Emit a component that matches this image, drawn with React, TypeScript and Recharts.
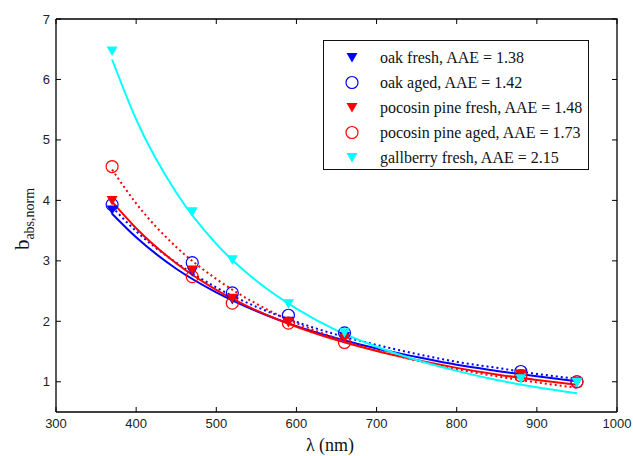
import React from 'react';
import { ComposedChart, Line, Scatter, XAxis, YAxis } from 'recharts';

// measured wavelengths (nm)
const WAVELENGTHS = [370, 470, 520, 590, 660, 880, 950];

// measured b_abs,norm at each wavelength
const oakFresh = [3.84, 2.82, 2.36, 2.0, 1.75, 1.13, 1.0];
const oakAged = [3.93, 2.97, 2.47, 2.1, 1.81, 1.17, 1.0];
const pineFresh = [4.0, 2.85, 2.38, 1.98, 1.72, 1.12, 1.0];
const pineAged = [4.56, 2.74, 2.3, 1.97, 1.65, 1.1, 1.0];
const gallberryFresh = [6.47, 3.81, 3.02, 2.29, 1.81, 1.05, 0.99];

// power-law fit curves
const FIT_X = [370, 400, 450, 500, 550, 600, 650, 700, 750, 800, 850, 900, 950];
const oakFreshFit = [3.78, 3.39, 2.87, 2.48, 2.17, 1.92, 1.72, 1.55, 1.41, 1.28, 1.18, 1.09, 1.01];
const oakAgedFit = [3.89, 3.49, 2.97, 2.56, 2.24, 1.99, 1.78, 1.61, 1.46, 1.33, 1.23, 1.13, 1.05];
const pineFreshFit = [3.98, 3.54, 2.96, 2.52, 2.18, 1.91, 1.69, 1.51, 1.36, 1.23, 1.12, 1.03, 0.95];
const pineAgedFit = [4.51, 3.95, 3.23, 2.7, 2.29, 1.97, 1.72, 1.52, 1.35, 1.21, 1.09, 0.99, 0.9];
const gallberryFit = [6.33, 5.34, 4.13, 3.28, 2.67, 2.21, 1.85, 1.58, 1.36, 1.18, 1.03, 0.91, 0.81];

const X_TICKS = [300, 400, 500, 600, 700, 800, 900, 1000];
const Y_TICKS = [1, 2, 3, 4, 5, 6, 7];

const SERIES = [
    { name: 'oak fresh, AAE = 1.38', color: '#0000ff', marker: 'tri', dotted: false, points: oakFresh, fit: oakFreshFit },
    { name: 'oak aged, AAE = 1.42', color: '#0000ff', marker: 'circle', dotted: true, points: oakAged, fit: oakAgedFit },
    { name: 'pocosin pine fresh, AAE = 1.48', color: '#ff0000', marker: 'tri', dotted: false, points: pineFresh, fit: pineFreshFit },
    { name: 'pocosin pine aged, AAE = 1.73', color: '#ff0000', marker: 'circle', dotted: true, points: pineAged, fit: pineAgedFit },
    { name: 'gallberry fresh, AAE = 2.15', color: '#00ffff', marker: 'tri', dotted: false, points: gallberryFresh, fit: gallberryFit },
];

const toPoints = (xs: number[], ys: number[]) => xs.map((x, i) => ({ x, y: ys[i] }));

const tickFont = { fontFamily: 'Liberation Sans, Arial, sans-serif', fontSize: 13, fill: '#222' };
const serif = 'Liberation Serif, Times New Roman, serif';

const Marker = ({ kind, color, cx, cy }: any) => {
    if (kind === 'circle') {
        return <circle cx={cx} cy={cy} r={6} fill="none" stroke={color} strokeWidth={1.2} />;
    }
    return <path d={`M${cx - 5.5},${cy - 4.5} L${cx + 5.5},${cy - 4.5} L${cx},${cy + 5} Z`} fill={color} />;
};

const BottomTick = ({ x, y, payload }: any) => (
    <g>
        <line x1={x} y1={y} x2={x} y2={y - 5} stroke="#000" />
        <line x1={x} y1={19} x2={x} y2={24} stroke="#000" />
        <text x={x} y={y + 16} textAnchor="middle" {...tickFont}>{payload.value}</text>
    </g>
);

const LeftTick = ({ x, y, payload }: any) => (
    <g>
        <line x1={x} y1={y} x2={x + 5} y2={y} stroke="#000" />
        <line x1={617} y1={y} x2={612} y2={y} stroke="#000" />
        <text x={x - 6} y={y + 4.5} textAnchor="end" {...tickFont}>{payload.value}</text>
    </g>
);

const YLabel = () => (
    <text transform="translate(29,219) rotate(-90)" textAnchor="middle" fontFamily={serif} fill="#111">
        <tspan fontSize={21}>b</tspan>
        <tspan fontSize={14} dy={5}>abs,norm</tspan>
    </text>
);

const XLabel = () => (
    <text x={330} y={451} textAnchor="middle" fontFamily={serif} fontSize={18} fill="#111">
        λ (nm)
    </text>
);

const LegendBox = () => (
    <div
        style={{
            position: 'absolute', left: 323, top: 40, width: 264, height: 128,
            border: '1.5px solid #111', background: '#fff', fontFamily: serif, fontSize: 16, color: '#111',
        }}
    >
        {SERIES.map((s, i) => (
            <div key={s.name} style={{ position: 'absolute', left: 0, top: 4 + i * 25, height: 25, display: 'flex', alignItems: 'center' }}>
                <svg width={56} height={25} style={{ flex: 'none' }}>
                    <Marker kind={s.marker} color={s.color} cx={28} cy={12.5} />
                </svg>
                <span style={{ whiteSpace: 'nowrap' }}>{s.name}</span>
            </div>
        ))}
    </div>
);

const App: React.FC = () => {
    return (
        <div style={{ position: 'absolute', left: 0, top: 0, width: 633, height: 456, background: '#fff' }}>
            <ComposedChart width={633} height={456} margin={{ top: 19, right: 16, bottom: 0, left: 0 }}>
                <XAxis
                    xAxisId="b"
                    dataKey="x"
                    type="number"
                    domain={[300, 1000]}
                    ticks={X_TICKS}
                    height={44}
                    tickSize={0}
                    tickMargin={0}
                    tickLine={false}
                    tick={<BottomTick />}
                    axisLine={{ stroke: '#000', strokeWidth: 1.3 }}
                    allowDataOverflow
                    label={<XLabel />}
                />
                <YAxis
                    yAxisId="l"
                    type="number"
                    domain={[0.5, 7]}
                    ticks={Y_TICKS}
                    width={56}
                    tickSize={0}
                    tickMargin={0}
                    tickLine={false}
                    tick={<LeftTick />}
                    axisLine={{ stroke: '#000', strokeWidth: 1.3 }}
                    allowDataOverflow
                    label={<YLabel />}
                />
                {SERIES.map((s) => (
                    <Line
                        key={'fit-' + s.name}
                        xAxisId="b"
                        yAxisId="l"
                        data={toPoints(FIT_X, s.fit)}
                        dataKey="y"
                        type="monotone"
                        stroke={s.color}
                        strokeWidth={2}
                        strokeDasharray={s.dotted ? '2 3' : undefined}
                        dot={false}
                        activeDot={false}
                        isAnimationActive={false}
                        legendType="none"
                    />
                ))}
                {SERIES.map((s) => (
                    <Scatter
                        key={'pts-' + s.name}
                        xAxisId="b"
                        yAxisId="l"
                        data={toPoints(WAVELENGTHS, s.points)}
                        dataKey="y"
                        shape={(p: any) => <Marker kind={s.marker} color={s.color} cx={p.cx} cy={p.cy} />}
                        isAnimationActive={false}
                    />
                ))}
            </ComposedChart>
            {/* plot frame: top and right edges, like a boxed axes */}
            <svg width={633} height={456} style={{ position: 'absolute', left: 0, top: 0, pointerEvents: 'none' }}>
                <polyline points="56,19 617,19 617,412" fill="none" stroke="#000" strokeWidth={1.3} />
            </svg>
            <LegendBox />
        </div>
    );
};

export default App;
